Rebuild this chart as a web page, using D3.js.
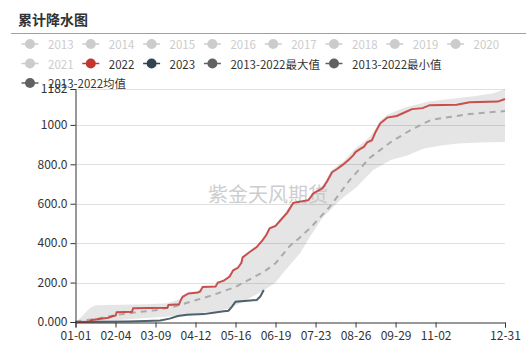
<!DOCTYPE html>
<html><head><meta charset="utf-8">
<script src="https://cdn.jsdelivr.net/npm/d3@7"></script>
<style>
html,body{margin:0;padding:0;background:#fff;}
svg{display:block;font-family:"Noto Sans CJK SC","Noto Sans",sans-serif;}
</style></head>
<body><svg id="c" width="532" height="359"></svg>
<script>
// ---- data ----
const title = "累计降水图";
const watermark = "紫金天风期货";
const tickDays = [0, 34, 68, 102, 136, 170, 204, 238, 272, 306, 365];
const tickLabels = ["01-01","02-04","03-09","04-12","05-16","06-19","07-23","08-26","09-29","11-02","12-31"];
const yTicks = [0, 200, 400, 600, 800, 1000];

const legendNames = ["2013","2014","2015","2016","2017","2018","2019","2020","2021","2022","2023","2013-2022最大值","2013-2022最小值","2013-2022均值"];
const legendColors = ["#ccc","#ccc","#ccc","#ccc","#ccc","#ccc","#ccc","#ccc","#ccc","#c23531","#2f4554","#616161","#616161","#616161"];
const legendActive = [false,false,false,false,false,false,false,false,false,true,true,true,true,true];

const days2022 = [0,11,14,20,28,32,34,35,48,49,78,79,88,89,91,96,104,106,108,119,121,126,128,131,134,138,141,142,148,154,159,162,165,170,174,180,185,188,198,202,206,210,214,218,222,227,232,236,238,242,245,248,252,255,259,262,265,273,280,286,295,301,324,335,359,365];
const vals2022 = [0,0,10,15,22,30,32,50,52,70,72,86,90,105,128,145,150,155,178,180,200,210,218,230,262,275,300,328,355,380,415,440,475,487,515,555,604,608,618,652,665,678,715,760,775,797,822,845,862,878,888,912,922,964,1008,1022,1037,1045,1064,1080,1085,1100,1102,1115,1118,1131];

const days2023 = [0,20,44,60,72,80,87,95,109,117,126,130,133,136,146,154,157,160];
const vals2023 = [0,1,3,5,8,17,30,37,40,47,54,57,78,103,108,112,129,162];

const daysMax = [0,4,8,12,17,40,60,78,83,88,95,104,109,119,123,128,134,138,142,148,154,159,165,170,174,180,185,198,202,210,218,227,232,238,244,250,255,259,265,273,280,290,300,320,340,355,365];
const valsMax = [0,20,45,70,85,88,90,95,105,115,142,158,180,182,205,222,266,278,332,358,384,420,480,492,520,572,606,625,660,692,772,812,842,882,908,938,980,1022,1052,1072,1088,1103,1118,1132,1146,1160,1182];

const daysMin = [0,20,40,60,80,100,110,120,130,140,150,160,170,178,191,199,210,225,239,253,268,282,296,311,325,345,365];
const valsMin = [0,5,12,20,28,40,48,55,68,95,128,160,200,260,350,430,530,619,685,771,822,845,880,895,905,910,913];

const daysMean = [0,10,20,34,50,68,85,102,117,136,150,160,170,182,190,200,216,233,250,268,285,302,318,335,365];
const valsMean = [3,10,18,35,48,60,80,110,137,178,223,254,298,385,425,480,584,720,832,913,974,1025,1040,1055,1070];

// ---- chart ----
const svg = d3.select("#c");
const pL = 75.5, pR = 505, pT = 89, pB = 322;

const yMax = d3.max(valsMax);
const x = d3.scaleLinear().domain([0, 365]).range([pL, pR]);
const y = d3.scaleLinear().domain([0, yMax]).range([pB, pT]);
const fmt = v => (+v).toPrecision(4);

// title
svg.append("text").attr("x", 18).attr("y", 25).attr("font-size", 14).attr("font-weight", "bold")
  .attr("fill", "#333").text(title);
svg.append("line").attr("x1", 11).attr("x2", 526).attr("y1", 33.5).attr("y2", 33.5)
  .attr("stroke", "#a0a0a0").attr("stroke-width", 1);

// grid
const gridVals = yTicks.slice(1).concat([yMax]);
svg.append("g").selectAll("line").data(gridVals).join("line")
  .attr("x1", pL).attr("x2", pR)
  .attr("y1", d => Math.round(y(d)) + 0.5).attr("y2", d => Math.round(y(d)) + 0.5)
  .attr("stroke", "#e0e0e0");

// band (min..max)
const maxPts = daysMax.map((d, i) => [d, valsMax[i]]);
const minPts = daysMin.map((d, i) => [d, valsMin[i]]);
const bandPts = maxPts.concat(minPts.slice().reverse());
svg.append("path")
  .attr("d", d3.line().x(p => x(p[0])).y(p => y(p[1]))(bandPts) + "Z")
  .attr("fill", "#000").attr("fill-opacity", 0.1).attr("stroke", "none");

// watermark
svg.append("text").attr("x", 268).attr("y", 202).attr("text-anchor", "middle")
  .attr("font-size", 20).attr("fill", "#c4c4c4").attr("fill-opacity", 0.85).text(watermark);

// lines
const lineGen = d3.line().x(p => x(p[0])).y(p => y(p[1]));
svg.append("path").attr("d", lineGen(daysMean.map((d, i) => [d, valsMean[i]])))
  .attr("fill", "none").attr("stroke", "#aaa").attr("stroke-width", 2).attr("stroke-dasharray", "6,5");
svg.append("path").attr("d", lineGen(days2023.map((d, i) => [d, vals2023[i]])))
  .attr("fill", "none").attr("stroke", "#2f4554").attr("stroke-width", 2).attr("stroke-opacity", 0.85);
svg.append("path").attr("d", lineGen(days2022.map((d, i) => [d, vals2022[i]])))
  .attr("fill", "none").attr("stroke", "#c23531").attr("stroke-width", 2).attr("stroke-opacity", 0.85);

// y axis
const yAxis = d3.axisLeft(y).tickValues(yTicks.concat([yMax])).tickFormat(fmt).tickSize(5).tickPadding(3);
const gy = svg.append("g").attr("transform", `translate(${pL},0)`).call(yAxis);
gy.select(".domain").attr("stroke", "#333");
gy.selectAll(".tick line").attr("stroke", "#333");
gy.selectAll(".tick text").attr("fill", "#333").attr("font-size", 12).attr("font-family", "'Noto Sans CJK SC',sans-serif");

// x axis
const xAxis = d3.axisBottom(x).tickValues(tickDays).tickFormat((d, i) => tickLabels[i]).tickSize(5).tickPadding(4);
const gx = svg.append("g").attr("transform", `translate(0,${pB + 0.5})`).call(xAxis);
gx.select(".domain").attr("stroke", "#333");
gx.selectAll(".tick line").attr("stroke", "#333");
gx.selectAll(".tick text").attr("fill", "#333").attr("font-size", 12).attr("font-family", "'Noto Sans CJK SC',sans-serif");

// legend
const pitch = 60.8, lx0 = 21.5, rowY = [44, 63.5, 83], maxCols = 8;
let col = 0, row = 0;
const lg = svg.append("g");
legendNames.forEach((name, i) => {
  const t = lg.append("text").attr("font-size", 11.5).attr("dominant-baseline", "central")
    .attr("fill", legendActive[i] ? "#333" : "#ccc").text(name);
  const tw = t.node().getComputedTextLength();
  const span = Math.ceil((26 + tw + 6) / pitch);
  if (col + span > maxCols) { col = 0; row++; }
  const x0 = lx0 + col * pitch, yy = rowY[row];
  t.attr("x", x0 + 26.5).attr("y", yy);
  lg.append("line").attr("x1", x0).attr("x2", x0 + 17).attr("y1", yy).attr("y2", yy)
    .attr("stroke", legendColors[i]).attr("stroke-width", 1.5);
  lg.append("circle").attr("cx", x0 + 8.5).attr("cy", yy).attr("r", 5).attr("fill", legendColors[i]);
  col += span;
});
</script></body></html>
